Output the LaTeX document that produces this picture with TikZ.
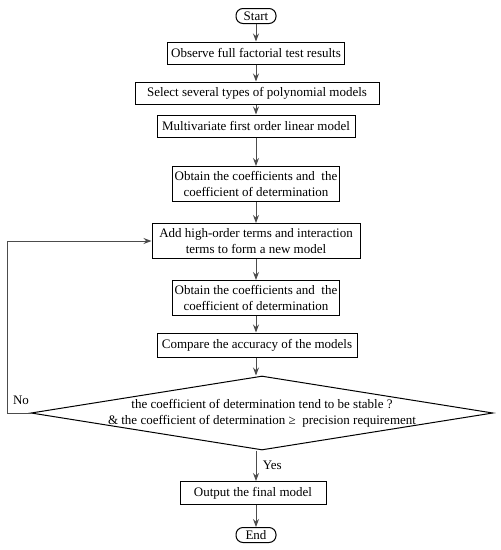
\documentclass[tikz,border=0pt]{standalone}
\usepackage{fontspec}
\setmainfont{Liberation Serif}
\usetikzlibrary{shapes.geometric,arrows.meta}
\begin{document}
\begin{tikzpicture}[x=1pt,y=-1pt, font=\fontsize{13}{16}\selectfont,
  line/.style = {draw=black!70, line width=1pt},
  arr/.style = {line, -{Stealth[length=8pt,width=6pt]}},
  box/.style = {draw, line width=1pt, align=center, inner xsep=2pt, minimum height=22pt},
  term/.style = {draw, line width=1pt, rounded corners=7pt, minimum width=40pt, minimum height=15pt, inner sep=0.5pt},
  decide/.style = {draw, diamond, aspect=6.2, line width=1pt, align=center, inner xsep=-40pt, inner ysep=-6pt, minimum width=462pt, minimum height=74pt}]
\useasboundingbox (0,0) rectangle (501,550);
\node[term] (start) at (256,16) {Start};
\node[box, minimum width=177pt] (observe) at (256,53) {Observe full factorial test results};
\node[box, minimum width=244pt] (select) at (257,93) {Select several types of polynomial models};
\node[box, minimum width=198pt] (linear) at (256,126) {Multivariate first order linear model};
\node[box, minimum width=166pt, minimum height=35pt] (coef1) at (256,184) {Obtain the coefficients and\ \ the\\coefficient of determination};
\node[box, minimum width=208pt, minimum height=35pt] (add) at (256,241) {Add high-order terms and interaction\\terms to form a new model};
\node[box, minimum width=166pt, minimum height=35pt] (coef2) at (256,298) {Obtain the coefficients and\ \ the\\coefficient of determination};
\node[box, minimum width=200pt, minimum height=24pt] (compare) at (257,345) {Compare the accuracy of the models};
\node[decide] (check) at (262,413) {the coefficient of determination tend to be stable ?\\\& the coefficient of determination ≥\ \ precision requirement};
\node[box, minimum width=146pt, minimum height=23pt] (output) at (253,493) {Output the final model};
\node[term] (end) at (256,535) {End};
\coordinate (back) at (7,241);
\draw[arr] (start) -- (start |- observe.north);
\draw[arr] (observe.south -| start) -- (start |- select.north);
\draw[arr] (select.south -| start) -- (start |- linear.north);
\draw[arr] (linear) -- (coef1);
\draw[arr] (coef1) -- (add);
\draw[arr] (add) -- (coef2);
\draw[arr] (coef2) -- (coef2 |- compare.north);
\draw[arr] (compare.south -| coef2) -- (coef2 |- check.north);
\draw[arr] (check.south -| coef2) -- node[right, xshift=3pt] {Yes} (coef2 |- output.north);
\draw[arr] (output.south -| coef2) -- (end);
\draw[arr] (check.west) -- (check.west -| back) -- (back) -- (add.west);
\node (no) at (21,400) {No};
\end{tikzpicture}
\end{document}
